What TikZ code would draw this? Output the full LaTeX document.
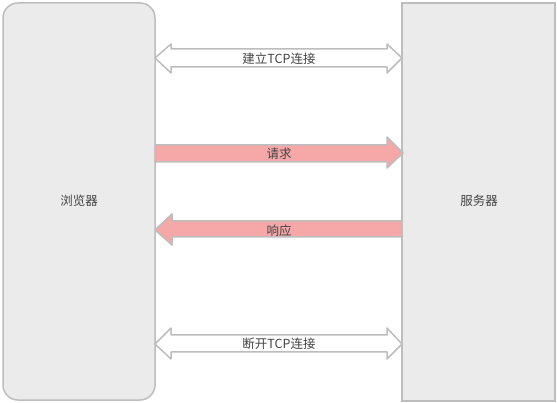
\documentclass[tikz,border=0pt]{standalone}
\usepackage{fontspec}
\newfontfamily\cjk{Noto Sans CJK SC}
\definecolor{boxfill}{HTML}{EBEBEB}
\definecolor{edge}{HTML}{BDBDBD}
\definecolor{pinkfill}{HTML}{F6A8A8}
\definecolor{txt}{HTML}{444444}
\begin{document}
\begin{tikzpicture}[x=1pt,y=-1pt,
  panel/.style={draw=edge,fill=boxfill,line width=1.5pt},
  hollow/.style={draw=edge,fill=white,line width=1.5pt,line join=round},
  solid/.style={draw=edge,fill=pinkfill,line width=1.5pt,line join=round},
  lbl/.style={text=txt,font=\cjk\fontsize{12.5}{14}\selectfont,inner sep=1pt}]
\useasboundingbox (0,0) rectangle (557,403);
% panels
\draw[panel,rounded corners=15pt] (3,3) rectangle (155,400);
\draw[panel] (402,3) rectangle (555,401);
\node[lbl] (browser) at (79,201) {浏览器};
\node[lbl] (server) at (479,201) {服务器};
% connect (double arrow)
\draw[hollow] (155,58) -- (171,44) -- (171,49) -- (387,49) -- (387,44) -- (402,58)
  -- (387,73) -- (387,67) -- (171,67) -- (171,73) -- cycle;
\node[lbl] (connect) at (279,59) {建立TCP连接};
% request
\draw[solid] (155,145) -- (387,145) -- (387,137) -- (403,153) -- (387,168) -- (387,162) -- (155,162) -- cycle;
\node[lbl] (request) at (279,154) {请求};
% response
\draw[solid] (402,221) -- (172,221) -- (172,214) -- (155,230) -- (172,245) -- (172,237) -- (402,237) -- cycle;
\node[lbl] (response) at (279,231) {响应};
% disconnect
\draw[hollow] (155,344) -- (171,328) -- (171,335) -- (387,335) -- (387,328) -- (402,344)
  -- (387,359) -- (387,352) -- (171,352) -- (171,359) -- cycle;
\node[lbl] (disconnect) at (279,344) {断开TCP连接};
\end{tikzpicture}
\end{document}
